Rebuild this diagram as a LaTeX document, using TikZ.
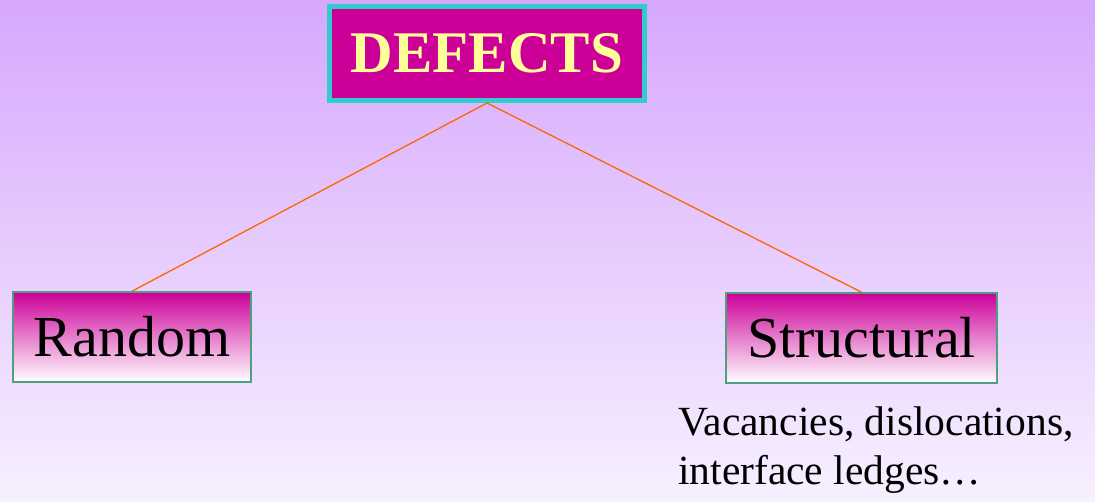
\documentclass[tikz,border=0pt]{standalone}
\usepackage{fontspec}
\setmainfont{Liberation Serif}
\usetikzlibrary{positioning}

\definecolor{bgtop}{RGB}{214,168,252}
\definecolor{bgbottom}{RGB}{247,240,255}
\definecolor{defmagenta}{RGB}{204,0,153}
\definecolor{defcyan}{RGB}{51,204,204}
\definecolor{defyellow}{RGB}{255,255,153}
\definecolor{boxgreen}{RGB}{76,160,128}
\definecolor{linkorange}{RGB}{255,102,0}

\tikzset{
  rootbox/.style={draw=defcyan, line width=5pt, fill=defmagenta,
    minimum width=315pt, minimum height=94pt, inner sep=0pt,
    text=defyellow, font=\fontsize{59}{62}\selectfont\bfseries},
  kindbox/.style={draw=boxgreen, line width=1.6pt,
    top color=defmagenta, bottom color=white,
    minimum height=90pt, inner sep=0pt,
    font=\fontsize{58}{60}\selectfont},
  link/.style={linkorange, line width=1.3pt}
}

\begin{document}
\begin{tikzpicture}[x=1pt,y=-1pt]
% background
\fill[top color=bgtop, bottom color=bgbottom] (0,0) rectangle (1095,502);
\useasboundingbox (0,0) rectangle (1095,502);

% boxes
\node[rootbox] (defects) at (487,53.5) {DEFECTS};
\node[kindbox, minimum width=238pt] (random) at (132,337) {Random};
\node[kindbox, minimum width=271pt] (structural) at (861.5,338) {Structural};

% connectors
\draw[link] (defects.south) -- (random.north);
\draw[link] (defects.south) -- (structural.north);

% examples of structural defects
\node[anchor=north west, inner sep=0pt, align=left,
  font=\fontsize{41.5}{49}\selectfont] (examples) at (678,407)
  {Vacancies, dislocations,\\interface ledges\dots};
\end{tikzpicture}
\end{document}
